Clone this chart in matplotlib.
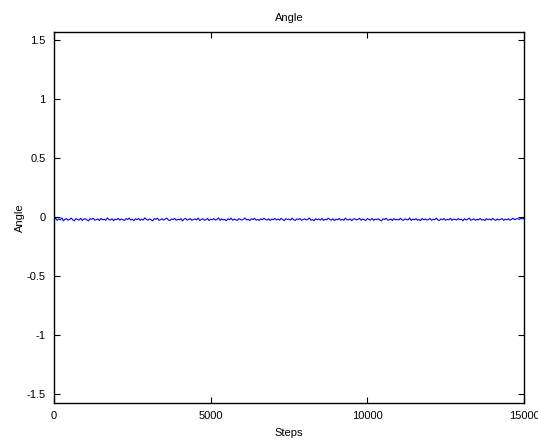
import numpy as np
import matplotlib
matplotlib.use("Agg")
import matplotlib.pyplot as plt

# one sample every 50 steps
steps = list(range(0, 15001, 50))
angle = [
    -0.020, -0.008, -0.026, -0.014, -0.022, -0.006, -0.030, -0.016, -0.012, -0.025,
    -0.018, -0.007, -0.023, -0.029, -0.011, -0.019, -0.024, -0.009, -0.027, -0.015,
    -0.013, -0.022, -0.031, -0.012, -0.018, -0.008, -0.025, -0.021, -0.014, -0.028,
    -0.010, -0.022, -0.017, -0.026, -0.006, -0.019, -0.024, -0.013, -0.029, -0.016,
    -0.021, -0.009, -0.025, -0.015, -0.022, -0.027, -0.011, -0.020, -0.007, -0.024,
    -0.017, -0.028, -0.013, -0.021, -0.010, -0.026, -0.016, -0.023, -0.005, -0.019,
    -0.025, -0.014, -0.022, -0.030, -0.011, -0.018, -0.008, -0.027, -0.020, -0.013,
    -0.024, -0.016, -0.007, -0.023, -0.028, -0.015, -0.019, -0.010, -0.025, -0.017,
    -0.022, -0.012, -0.031, -0.016, -0.009, -0.024, -0.020, -0.011, -0.026, -0.018,
    -0.014, -0.023, -0.006, -0.027, -0.019, -0.013, -0.025, -0.021, -0.010, -0.028,
    -0.016, -0.022, -0.011, -0.024, -0.018, -0.005, -0.026, -0.014, -0.023, -0.019,
    -0.030, -0.013, -0.021, -0.008, -0.025, -0.016, -0.022, -0.027, -0.012, -0.019,
    -0.024, -0.015, -0.007, -0.023, -0.018, -0.028, -0.013, -0.020, -0.009, -0.025,
    -0.019, -0.026, -0.014, -0.022, -0.008, -0.018, -0.024, -0.013, -0.027, -0.016,
    -0.021, -0.010, -0.023, -0.015, -0.025, -0.009, -0.019, -0.029, -0.012, -0.020,
    -0.016, -0.024, -0.008, -0.022, -0.027, -0.014, -0.018, -0.011, -0.026, -0.020,
    -0.013, -0.023, -0.017, -0.006, -0.025, -0.019, -0.030, -0.012, -0.021, -0.015,
    -0.024, -0.010, -0.027, -0.017, -0.022, -0.008, -0.019, -0.025, -0.013, -0.028,
    -0.016, -0.021, -0.011, -0.024, -0.018, -0.026, -0.007, -0.020, -0.023, -0.014,
    -0.029, -0.017, -0.012, -0.022, -0.019, -0.009, -0.025, -0.015, -0.021, -0.027,
    -0.012, -0.018, -0.024, -0.010, -0.026, -0.016, -0.020, -0.013, -0.023, -0.031,
    -0.014, -0.019, -0.008, -0.025, -0.021, -0.015, -0.028, -0.011, -0.022, -0.017,
    -0.024, -0.009, -0.020, -0.026, -0.013, -0.019, -0.023, -0.006, -0.027, -0.016,
    -0.021, -0.012, -0.025, -0.018, -0.029, -0.010, -0.022, -0.015, -0.024, -0.019,
    -0.011, -0.026, -0.017, -0.021, -0.008, -0.023, -0.028, -0.014, -0.020, -0.012,
    -0.025, -0.018, -0.022, -0.009, -0.027, -0.015, -0.019, -0.024, -0.011, -0.021,
    -0.016, -0.030, -0.013, -0.023, -0.018, -0.007, -0.025, -0.020, -0.014, -0.026,
    -0.017, -0.022, -0.010, -0.024, -0.019, -0.028, -0.012, -0.021, -0.015, -0.025,
    -0.009, -0.020, -0.027, -0.014, -0.023, -0.018, -0.011, -0.026, -0.016, -0.022,
    -0.013, -0.024, -0.019, -0.008, -0.021, -0.015, -0.012, -0.018, -0.010, -0.014,
    -0.011,
]

plt.rcParams["font.family"] = ["Liberation Sans", "DejaVu Sans"]

fig = plt.figure(figsize=(5.38, 4.45), dpi=100)
ax = fig.add_axes([0.1004, 0.0955, 0.8736, 0.8326])

ax.plot(steps, angle, color="#0000ff", linewidth=0.8)

ax.set_xlim(0, 15000)
ax.set_ylim(-np.pi / 2, np.pi / 2)
ax.set_xticks([0, 5000, 10000, 15000])
ax.set_yticks([-1.5, -1, -0.5, 0, 0.5, 1, 1.5])
ax.set_yticklabels(["-1.5", "-1", "-0.5", "0", "0.5", "1", "1.5"])
ax.tick_params(direction="in", length=4, labelsize=8, top=True, right=True,
               labeltop=False, labelright=False, pad=6)
for s in ax.spines.values():
    s.set_linewidth(1.0)

ax.set_title("Angle", fontsize=8, pad=8)
ax.set_xlabel("Steps", fontsize=8, labelpad=5)
ax.set_ylabel("Angle", fontsize=8, labelpad=1)

fig.savefig("out.png", dpi=100)
